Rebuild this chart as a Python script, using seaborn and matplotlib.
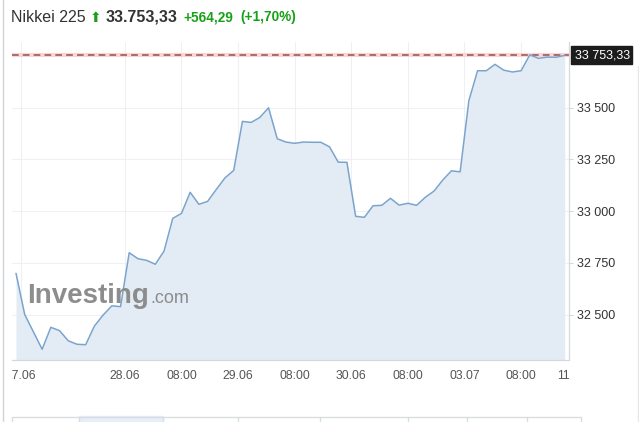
import numpy as np
import pandas as pd
import seaborn as sns
import matplotlib.pyplot as plt
from matplotlib.transforms import Bbox, TransformedBbox, blended_transform_factory
from matplotlib.patches import Rectangle
from matplotlib.lines import Line2D

# Nikkei 225 intraday closes, one point per bar
prices = [32699, 32500, 32416, 32332, 32438, 32422, 32373, 32356, 32354, 32444,
          32497, 32542, 32538, 32799, 32770, 32762, 32743, 32807, 32965, 32989,
          33091, 33033, 33047, 33105, 33161, 33197, 33434, 33429, 33453, 33500,
          33350, 33334, 33328, 33334, 33333, 33333, 33311, 33237, 33236, 32975,
          32970, 33026, 33028, 33062, 33029, 33038, 33028, 33067, 33097, 33150,
          33195, 33190, 33534, 33679, 33679, 33710, 33682, 33673, 33679, 33756,
          33739, 33745, 33744, 33753.33]
last_price = 33753.33

x_ticks = [0.54, 12.5, 19.0, 25.5, 32.0, 38.5, 45.0, 51.5, 58.0]
x_labels = ["27.06", "28.06", "08:00", "29.06", "08:00", "30.06", "08:00", "03.07", "08:00"]
extra_tick = 63.9
extra_label = "11:00"
y_ticks = [32500, 32750, 33000, 33250, 33500]
y_labels = ["32 500", "32 750", "33 000", "33 250", "33 500"]

df = pd.DataFrame({"i": np.arange(len(prices)), "price": prices})

sns.set_style("white")
plt.rcParams["font.family"] = ["Liberation Sans", "DejaVu Sans"]

W, H = 639, 422
fig = plt.figure(figsize=(W / 100, H / 100), dpi=100)
ax = fig.add_axes([12 / W, 1 - 360 / H, 557 / W, 318 / H])

line_col = "#7ba4cd"
fill_col = "#e3ecf5"
grid_col = "#eef0f3"

ax.fill_between(df["i"], df["price"], 32000, color=fill_col, lw=0, zorder=1)
sns.lineplot(data=df, x="i", y="price", ax=ax, color=line_col, lw=1.1, zorder=3)

ax.set_xlim(-0.46, 63.5)
ax.set_ylim(32280, 33818)

ax.set_xticks(x_ticks)
ax.set_xticklabels(x_labels)
ax.set_yticks(y_ticks)
ax.set_yticklabels(y_labels)
ax.yaxis.tick_right()
ax.set_xlabel("")
ax.set_ylabel("")
ax.grid(True, color=grid_col, lw=0.8, zorder=0)
ax.set_axisbelow(True)

for s in ["left", "top"]:
    ax.spines[s].set_visible(False)
for s in ["right", "bottom"]:
    ax.spines[s].set_color("#d5d8dc")
    ax.spines[s].set_linewidth(0.9)
ax.tick_params(axis="x", length=3, color="#d5d8dc", labelsize=8.8, labelcolor="#555555", pad=4)
ax.tick_params(axis="y", length=3, color="#d5d8dc", labelsize=9, labelcolor="#333333", pad=3)

# clip x labels to the plot width, like the original widget
clip = TransformedBbox(Bbox.from_extents(12 / W, 0, 570 / W, 1), fig.transFigure)
for lbl in ax.get_xticklabels():
    lbl.set_clip_box(clip)
    lbl.set_clip_on(True)
tr = blended_transform_factory(ax.transData, ax.transAxes)
t = ax.text(extra_tick, -0.032, extra_label, transform=tr, ha="center", va="top",
            fontsize=8.8, color="#555555", clip_on=True)
t.set_clip_box(clip)

# last price line + label
ax.axhline(last_price, color="#fbd5d5", lw=3, zorder=2)
ax.axhline(last_price, color="#9a5c5c", lw=1.2, ls=(0, (4, 2.5)), zorder=2)
fig.patches.append(Rectangle((571 / W, 1 - 64 / H), 61 / W, 18 / H,
                             transform=fig.transFigure, color="#1c1c1c"))
fig.text(575 / W, 1 - 55 / H, "33 753,33", color="white", fontsize=9, va="center")

# watermark
ax.text(0.027, 0.179, "Investing", transform=ax.transAxes, fontsize=20,
        fontweight="bold", color="#878787", alpha=0.95, zorder=4)
ax.text(0.248, 0.179, ".com", transform=ax.transAxes, fontsize=13,
        color="#878787", alpha=0.95, zorder=4)

# header
fig.text(11 / W, 1 - 17 / H, "Nikkei 225", fontsize=11.5, color="#333333", va="center")
fig.text(90 / W, 1 - 18 / H, "\u2b06", fontsize=10, color="#18a018", va="center",
         family=["DejaVu Sans"])
fig.text(106 / W, 1 - 17 / H, "33.753,33", fontsize=11.5, fontweight="bold",
         color="#333333", va="center")
fig.text(183 / W, 1 - 17 / H, "+564,29", fontsize=9.8, fontweight="bold",
         color="#18a018", va="center")
fig.text(240 / W, 1 - 17 / H, "(+1,70%)", fontsize=9.8, fontweight="bold",
         color="#18a018", va="center")

# widget frame and tab row
border = "#cfd2d6"
fig.add_artist(Line2D([2.5 / W, 2.5 / W], [0, 1], color=border, lw=1))
fig.add_artist(Line2D([637.5 / W, 637.5 / W], [0, 1 - 66 / H], color="#e6e6e6", lw=1))
fig.patches.append(Rectangle((79 / W, 0), 84 / W, 6 / H, transform=fig.transFigure,
                             color="#e6eef7"))
fig.add_artist(Line2D([12 / W, 581 / W], [1 - 416.5 / H] * 2, color="#d9dce0", lw=1))
for xd in [12, 79, 163, 238, 320, 408, 467, 527, 581]:
    fig.add_artist(Line2D([xd / W, xd / W], [0, 1 - 416.5 / H], color="#d9dce0", lw=1))

fig.savefig("out.png", dpi=100)
